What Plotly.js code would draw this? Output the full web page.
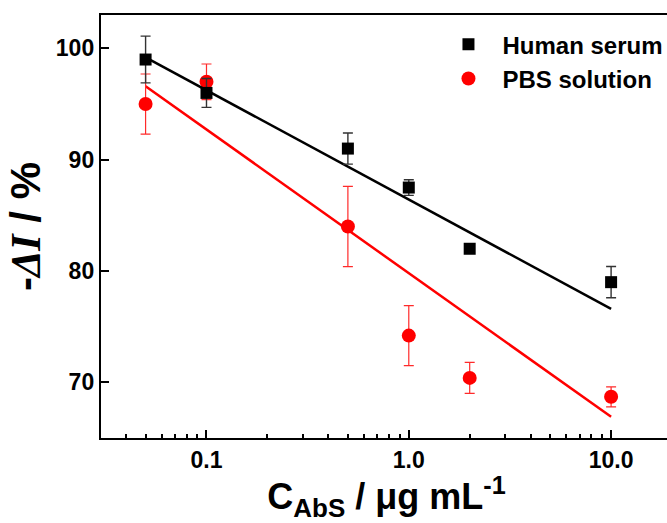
<!DOCTYPE html>
<html>
<head>
<meta charset="utf-8">
<script src="https://cdn.plot.ly/plotly-3.0.1.min.js"></script>
<style>
html,body{margin:0;padding:0;overflow:hidden;background:#fff;}
#chart{width:720px;height:523px;}
</style>
</head>
<body>
<div id="chart"></div>
<script>
const conc = [0.05, 0.1, 0.5, 1, 2, 10];
const serum = [99.0, 96.0, 91.0, 87.5, 82.0, 79.0];
const serumErr = [2.1, 1.3, 1.4, 0.7, 0.4, 1.4];
const pbs = [95.0, 97.0, 84.0, 74.2, 70.4, 68.7];
const pbsErr = [2.7, 1.6, 3.6, 2.7, 1.4, 0.9];
const fitX = [0.05, 10];
const serumFit = [99.2, 76.6];
const pbsFit = [96.6, 66.9];
const xTickVals = [0.1, 1, 10];
const xTickText = ['0.1', '1.0', '10.0'];
const xMinorVals = [0.04,0.05,0.06,0.07,0.08,0.09,0.2,0.3,0.4,0.5,0.6,0.7,0.8,0.9,2,3,4,5,6,7,8,9];
const yTickVals = [70, 80, 90, 100];

const FONT = '"Liberation Sans", Arial, sans-serif';

const traces = [
  {x: fitX, y: pbsFit, mode: 'lines', line: {color: '#ff0000', width: 2.5}, showlegend: false, hoverinfo: 'skip'},
  {x: conc, y: pbs, mode: 'markers', name: 'PBS solution', legendrank: 2,
   marker: {symbol: 'circle', size: 14, color: '#ff0000'},
   error_y: {type: 'data', array: pbsErr, visible: true, color: '#ff2a2a', thickness: 1.2, width: 5}},
  {x: fitX, y: serumFit, mode: 'lines', line: {color: '#000000', width: 2.5}, showlegend: false, hoverinfo: 'skip'},
  {x: conc, y: serum, mode: 'markers', name: 'Human serum', legendrank: 1,
   marker: {symbol: 'square', size: 12, color: '#000000'},
   error_y: {type: 'data', array: serumErr, visible: true, color: '#333333', thickness: 1.4, width: 5}}
];

const layout = {
  width: 720, height: 523,
  margin: {l: 101, r: 48, t: 15, b: 85},
  paper_bgcolor: '#ffffff', plot_bgcolor: '#ffffff',
  font: {family: FONT, color: '#000', size: 23, weight: 700},
  showlegend: true,
  legend: {x: 0.584, y: 0.983, xanchor: 'left', yanchor: 'top', bgcolor: 'rgba(0,0,0,0)',
           font: {family: FONT, size: 24, weight: 700, color: '#000'}, itemwidth: 58, tracegroupgap: 0},
  xaxis: {
    type: 'log', range: [Math.log10(0.0301), Math.log10(20)],
    tickmode: 'array', tickvals: xTickVals, ticktext: xTickText,
    ticks: 'inside', ticklen: 8, tickwidth: 2, tickcolor: '#000',
    showline: true, linewidth: 2.2, linecolor: '#000', mirror: true,
    showgrid: false, zeroline: false,
    tickfont: {family: FONT, size: 23, weight: 700},
    minor: {tickmode: 'array', tickvals: xMinorVals, ticks: 'inside', ticklen: 4, tickwidth: 2, tickcolor: '#000', showgrid: false},
    title: {text: 'C<sub><span style="font-size:26px">AbS</span></sub> / μg mL<sup>-1</sup>', font: {family: FONT, size: 36, weight: 700}, standoff: 6},
    automargin: false
  },
  yaxis: {
    range: [65, 103],
    tickmode: 'array', tickvals: yTickVals,
    ticks: 'inside', ticklen: 8, tickwidth: 2, tickcolor: '#000',
    showline: true, linewidth: 2.2, linecolor: '#000', mirror: true,
    showgrid: false, zeroline: false,
    tickfont: {family: FONT, size: 23, weight: 700},
    title: {text: '-<span style="font-family:\'Liberation Serif\', serif"><i>ΔI</i></span> / %', font: {family: FONT, size: 42, weight: 700}, standoff: 2},
    automargin: false
  }
};

Plotly.newPlot('chart', traces, layout, {displayModeBar: false, staticPlot: true});
</script>
</body>
</html>
